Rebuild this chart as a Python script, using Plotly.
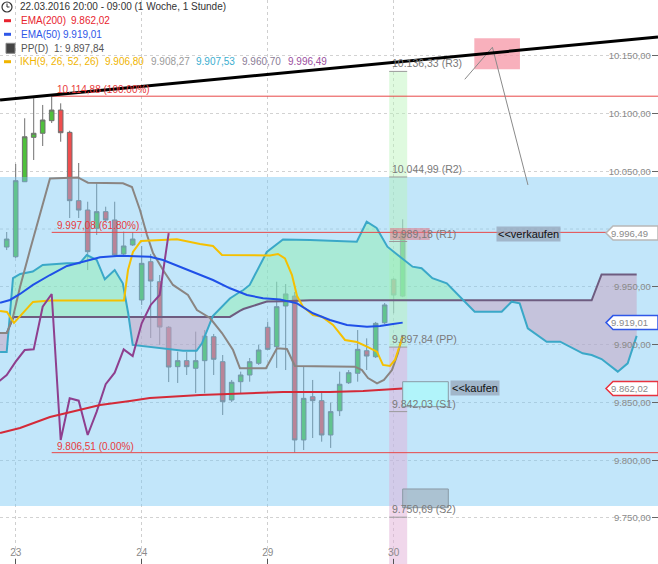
import plotly.graph_objects as go

W, H = 658, 564

# ---------------- data (hourly candles, index 0..44) ----------------
candle_idx = list(range(45))
opens = [9984.4, 9976.0, 10040.9, 10079.3, 10082.8, 10093.7, 10102.9, 10083.6, 10024.5, 10016.4,
         10000.6, 10015.0, 10007.8, 9978.4, 9986.2, 9938.6, 9971.7, 9954.4, 9915.0, 9880.9,
         9886.1, 9879.5, 9886.1, 9906.8, 9885.2, 9852.1, 9867.9, 9873.7, 9883.8, 9915.0,
         9898.2, 9933.4, 9942.0, 9817.5, 9854.9, 9851.5, 9821.8, 9842.8, 9867.0, 9875.2,
         9894.7, 9889.5, 9918.9, 9956.5, 9942.0]
highs = [9997.4, 10056.2, 10095.8, 10113.1, 10107.3, 10114.88, 10108.7, 10085.0, 10057.1, 10023.6,
         10039.5, 10019.3, 10023.6, 9997.7, 9997.4, 9985.3, 9978.4, 9960.2, 9916.0, 9893.9,
         9893.6, 9911.2, 9912.6, 9909.2, 9891.0, 9869.4, 9876.6, 9888.4, 9899.7, 9919.8,
         9954.4, 9952.4, 9945.5, 9880.9, 9869.4, 9859.3, 9849.7, 9876.6, 9878.0, 9912.6,
         9905.4, 9919.6, 9936.0, 9957.6, 10008.4]
lows = [9981.8, 9974.9, 10040.7, 10059.7, 10071.8, 10091.7, 10075.5, 10009.5, 10009.5, 9964.5,
        9994.8, 10006.1, 9975.8, 9977.5, 9985.3, 9934.3, 9905.7, 9899.7, 9867.6, 9866.8,
        9873.7, 9858.1, 9857.9, 9873.7, 9839.1, 9850.3, 9858.1, 9867.9, 9882.4, 9895.3,
        9879.8, 9878.0, 9806.51, 9808.8, 9819.2, 9816.0, 9810.6, 9838.2, 9865.9, 9867.9,
        9878.0, 9888.4, 9917.8, 9927.1, 9941.0]
closes = [9991.3, 10041.8, 10079.8, 10082.8, 10094.3, 10102.9, 10083.3, 10024.5, 10016.4, 9980.4,
          10015.0, 10007.8, 9977.5, 9985.3, 9991.3, 9970.3, 9955.0, 9915.2, 9880.6, 9886.1,
          9880.9, 9886.1, 9907.4, 9887.3, 9850.6, 9867.4, 9873.7, 9885.2, 9895.3, 9895.9,
          9932.8, 9943.8, 9817.5, 9853.5, 9851.5, 9821.8, 9842.0, 9865.7, 9875.7, 9895.9,
          9890.1, 9918.4, 9934.3, 9942.9, 9996.49]

ema200_x = [-0.74, 1.48, 4.81, 8.14, 10.37, 13.7, 15.9, 21.5, 27.0, 30.7, 35.9, 39.6, 44.0]
ema200 = [9823.5, 9827.9, 9837.4, 9843.4, 9847.8, 9851.2, 9853.8, 9856.4, 9858.1, 9859.0, 9859.0, 9859.9, 9862.02]

ema50_x = [-0.74, 0.37, 1.48, 2.92, 4.81, 6.7, 8.48, 10.37, 12.59, 14.81, 15.92, 17.37, 19.26, 21.14,
           22.92, 24.81, 26.7, 28.48, 30.37, 32.26, 34.03, 35.92, 37.81, 40.03, 41.48, 42.92, 44.0]
ema50 = [9936.2, 9938.6, 9943.8, 9951.6, 9960.2, 9968.0, 9971.7, 9975.5, 9976.9, 9976.6, 9976.0, 9973.2,
         9967.4, 9961.7, 9955.9, 9948.7, 9942.9, 9940.1, 9939.0, 9935.7, 9927.1, 9921.3, 9917.0, 9915.5,
         9916.0, 9917.8, 9919.01]

tenkan_x = [-0.74, 0.03, 0.81, 1.7, 2.92, 4.81, 13.03, 13.48, 14.03, 14.92, 17.03, 18.92, 21.48, 22.92,
            23.92, 29.26, 30.14, 30.92, 31.7, 32.26, 32.92, 34.03, 35.03, 36.26, 37.59, 38.92, 40.03,
            41.14, 41.81, 42.59, 43.14, 44.0]
tenkan = [9929.1, 9928.2, 9918.7, 9926.5, 9936.9, 9938.1, 9938.1, 9964.5, 9980.1, 9989.6, 9990.5, 9991.1,
          9987.0, 9985.3, 9977.5, 9977.1, 9978.4, 9974.5, 9960.2, 9942.0, 9932.8, 9925.6, 9924.1, 9917.0,
          9904.0, 9902.2, 9898.2, 9893.9, 9882.4, 9881.5, 9886.7, 9906.8]

kijun_x = [-0.74, 0.03, 0.7, 1.48, 2.59, 4.03, 4.81, 7.92, 9.03, 12.92, 13.92, 14.81, 15.59, 16.26, 17.37,
           18.48, 20.14, 21.14, 22.59, 23.92, 25.15, 25.92, 28.81, 30.03, 31.14, 32.03, 38.7, 39.48,
           40.15, 41.15, 41.92, 42.81, 43.48, 44.0]
kijun = [9910.0, 9910.0, 9923.9, 9949.8, 9981.8, 10020.8, 10043.7, 10044.6, 10040.1, 10039.5, 10036.3,
         10016.4, 9994.8, 9979.2, 9964.5, 9951.6, 9942.9, 9929.9, 9923.0, 9910.0, 9895.3, 9879.5, 9879.5,
         9896.8, 9896.2, 9881.5, 9880.9, 9878.0, 9871.1, 9866.5, 9869.4, 9878.0, 9892.7, 9908.27]

cloud_x = [-0.74, 0.0, 0.7, 0.8, 1.5, 2.9, 4.0, 6.7, 8.1, 8.9, 10.0, 10.9, 12.0, 12.9, 13.5, 14.0, 15.6,
           17.4, 19.6, 21.1, 21.7, 22.9, 24.3, 24.8, 25.9, 26.3, 27.0, 27.9, 28.7, 28.9, 30.7, 32.6, 33.7,
           38.9, 40.0, 41.1, 42.3, 43.7, 45.1, 46.1, 47.3, 48.9, 50.4, 52.0, 55.0, 56.1, 57.0, 57.9, 60.0,
           61.5, 64.0, 65.0, 66.1, 66.7, 67.9, 69.0, 70.0]
senkou_a = [9893.6, 9893.6, 9957.6, 9958.0, 9961.1, 9963.2, 9968.9, 9970.3, 9970.3, 9977.5, 9973.2, 9956.5,
            9964.5, 9953.0, 9927.1, 9899.7, 9898.2, 9896.8, 9894.7, 9894.7, 9901.1, 9924.7, 9936.0, 9939.9,
            9945.5, 9947.2, 9951.6, 9964.5, 9976.6, 9980.1, 9990.9, 9990.7, 9990.5, 9989.0, 10006.3,
            10000.9, 9984.7, 9976.0, 9967.4, 9966.0, 9957.4, 9953.0, 9941.4, 9928.5, 9928.5, 9937.1,
            9935.7, 9914.1, 9902.5, 9902.5, 9892.5, 9891.0, 9887.5, 9883.8, 9876.6, 9883.8, 9907.53]
senkou_b = ([9910.0, 9910.0, 9922.6] + [9923.9] * 21 +
            [9929.2, 9930.8, 9932.5, 9934.9, 9937.1, 9937.2, 9937.5] + [9938.3] * 21 + [9960.7] * 5)

chikou_shift = 26

fib_start = 5
fib_levels = [10114.88, 9997.08, 9806.51]
fib_labels = ["10.114,88 (100.00%)", "9.997,08 (61.80%)", "9.806,51 (0.00%)"]

pivot_levels = [10136.33, 10044.99, 9989.18, 9897.84, 9842.03, 9750.69]
pivot_names = ["R3", "R2", "R1", "PP", "S1", "S2"]
pivot_day = [42.5, 44.5]

day_ticks = [1, 15, 29, 43]
day_labels = ["23", "24", "29", "30"]
price_ticks = [9750, 9800, 9850, 9900, 9950, 10050, 10100, 10150, 10200]
hidden_grid = [10000]

# drawn objects (levels in price, positions in candle index)
trend_x = [-0.74, 72.37]
trend_v = [10111.6, 10166.1]
zone_band = [9760.4, 10045.0]
sell_box = dict(x=[42.6, 47.0], v=[9990.5, 10000.9])
buy_box = dict(x=[44.0, 49.07], v=[9846.3, 9867.9])
s2_box = dict(x=[44.0, 49.07], v=[9758.9, 9775.1])
top_box = dict(x=[51.96, 57.03], v=[10138.2, 10165.0])
arrow_x = [50.9, 53.97, 57.92]
arrow_v = [10129.5, 10157.2, 10038.1]
sell_label = (57.98, 9995.7)
buy_label = (52.03, 9862.5)
price_tags = [(9996.49, "#b8b8b8"), (9919.01, "#2f57e8"), (9862.02, "#e8323e")]

x_range = [-0.744, 72.37]
y_range = [9710.2, 10198.1]

FONT = "Liberation Sans, Arial, sans-serif"


def de(v):
    s = f"{v:,.2f}"
    return s.replace(",", "X").replace(".", ",").replace("X", ".")


def px(x):
    return x / W


def py(y):
    return 1 - y / H


fig = go.Figure()

# candles
fig.add_trace(go.Candlestick(
    x=candle_idx, open=opens, high=highs, low=lows, close=closes,
    increasing=dict(fillcolor="#4fc03c", line=dict(color="#707070", width=1)),
    decreasing=dict(fillcolor="#ef4e4e", line=dict(color="#707070", width=1)),
    whiskerwidth=0, showlegend=False, hoverinfo="skip"))

# blue zone band overlay
fig.add_trace(go.Scatter(
    x=[x_range[0], x_range[1], x_range[1], x_range[0], x_range[0]],
    y=[zone_band[0], zone_band[0], zone_band[1], zone_band[1], zone_band[0]],
    fill="toself", fillcolor="rgba(120,200,245,0.45)", mode="lines", line=dict(width=0),
    showlegend=False, hoverinfo="skip"))

# pivot day bands
pp = pivot_levels[3]
fig.add_trace(go.Scatter(
    x=[pivot_day[0], pivot_day[1], pivot_day[1], pivot_day[0], pivot_day[0]],
    y=[pp, pp, pivot_levels[0], pivot_levels[0], pp],
    fill="toself", fillcolor="rgba(185,245,185,0.45)", mode="lines", line=dict(width=0),
    showlegend=False, hoverinfo="skip"))
fig.add_trace(go.Scatter(
    x=[pivot_day[0], pivot_day[1], pivot_day[1], pivot_day[0], pivot_day[0]],
    y=[pp, pp, y_range[0], y_range[0], pp],
    fill="toself", fillcolor="rgba(225,175,215,0.5)", mode="lines", line=dict(width=0),
    showlegend=False, hoverinfo="skip"))


# ichimoku cloud fills
def cloud_polys(xs, a, b):
    polys = []
    cx, ca, cb = [xs[0]], [a[0]], [b[0]]
    sign = a[0] >= b[0]
    for k in range(1, len(xs)):
        s = a[k] >= b[k]
        if s != sign:
            d0 = a[k - 1] - b[k - 1]
            d1 = a[k] - b[k]
            t = d0 / (d0 - d1)
            xc = xs[k - 1] + t * (xs[k] - xs[k - 1])
            yc = a[k - 1] + t * (a[k] - a[k - 1])
            cx.append(xc); ca.append(yc); cb.append(yc)
            polys.append((sign, cx, ca, cb))
            cx, ca, cb = [xc], [yc], [yc]
            sign = s
        cx.append(xs[k]); ca.append(a[k]); cb.append(b[k])
    polys.append((sign, cx, ca, cb))
    return polys


for up, cx, ca, cb in cloud_polys(cloud_x, senkou_a, senkou_b):
    fig.add_trace(go.Scatter(
        x=cx + cx[::-1], y=ca + cb[::-1], fill="toself",
        fillcolor="rgba(140,240,170,0.45)" if up else "rgba(200,160,190,0.5)",
        mode="lines", line=dict(width=0), showlegend=False, hoverinfo="skip"))

# lines
fig.add_trace(go.Scatter(x=cloud_x, y=senkou_b, mode="lines", line=dict(color="#6e5c80", width=2),
                         showlegend=False, hoverinfo="skip"))
fig.add_trace(go.Scatter(x=cloud_x, y=senkou_a, mode="lines", line=dict(color="#3aa8c8", width=2),
                         showlegend=False, hoverinfo="skip"))
fig.add_trace(go.Scatter(x=kijun_x, y=kijun, mode="lines", line=dict(color="#8a8582", width=2),
                         showlegend=False, hoverinfo="skip"))
fig.add_trace(go.Scatter(x=tenkan_x, y=tenkan, mode="lines", line=dict(color="#f5c000", width=2),
                         showlegend=False, hoverinfo="skip"))
chik_x = [i - chikou_shift for i in candle_idx[chikou_shift - 1:]]
chik_v = closes[chikou_shift - 1:]
fig.add_trace(go.Scatter(x=chik_x, y=chik_v, mode="lines", line=dict(color="#8e3f8e", width=2),
                         showlegend=False, hoverinfo="skip"))
fig.add_trace(go.Scatter(x=ema200_x, y=ema200, mode="lines", line=dict(color="#d42a38", width=2),
                         showlegend=False, hoverinfo="skip"))
fig.add_trace(go.Scatter(x=ema50_x, y=ema50, mode="lines", line=dict(color="#1f50e8", width=2),
                         showlegend=False, hoverinfo="skip"))

shapes = []
annots = []

# gridline hidden behind the price tag
for g in hidden_grid:
    shapes.append(dict(type="line", xref="paper", yref="y", x0=0, x1=1, y0=g, y1=g,
                       line=dict(color="#d2d2d2", width=1, dash="dot"), layer="below"))

# fib lines + labels
for lv, lab in zip(fib_levels, fib_labels):
    shapes.append(dict(type="line", xref="x", yref="y", x0=fib_start, x1=x_range[1], y0=lv, y1=lv,
                       line=dict(color="#e84848", width=1), layer="above"))
    annots.append(dict(x=fib_start + 0.37, y=lv, xref="x", yref="y", text=lab, showarrow=False,
                       xanchor="left", yanchor="bottom", yshift=-1,
                       font=dict(family=FONT, size=10, color="#e83a3a")))

# pivot segments + labels
for lv, nm in zip(pivot_levels, pivot_names):
    shapes.append(dict(type="line", xref="x", yref="y", x0=pivot_day[0], x1=pivot_day[1], y0=lv, y1=lv,
                       line=dict(color="#9a9a9a", width=1), layer="above"))
    annots.append(dict(x=pivot_day[0] + 0.1, y=lv, xref="x", yref="y", text=f"{de(lv)} ({nm})",
                       showarrow=False, xanchor="left", yanchor="bottom", yshift=0,
                       font=dict(family=FONT, size=10.5, color="#7a7a7a")))

# drawn boxes
shapes.append(dict(type="rect", xref="x", yref="y", x0=sell_box["x"][0], x1=sell_box["x"][1],
                   y0=sell_box["v"][0], y1=sell_box["v"][1], fillcolor="rgba(225,120,135,0.55)",
                   line=dict(width=0), layer="above"))
shapes.append(dict(type="rect", xref="x", yref="y", x0=buy_box["x"][0], x1=buy_box["x"][1],
                   y0=buy_box["v"][0], y1=buy_box["v"][1], fillcolor="rgba(175,245,250,0.9)",
                   line=dict(color="#8a9aa5", width=1), layer="above"))
shapes.append(dict(type="rect", xref="x", yref="y", x0=s2_box["x"][0], x1=s2_box["x"][1],
                   y0=s2_box["v"][0], y1=s2_box["v"][1], fillcolor="rgba(165,185,200,0.8)",
                   line=dict(color="#8a9aa5", width=1), layer="above"))
shapes.append(dict(type="rect", xref="x", yref="y", x0=top_box["x"][0], x1=top_box["x"][1],
                   y0=top_box["v"][0], y1=top_box["v"][1], fillcolor="rgba(245,150,165,0.75)",
                   line=dict(width=0), layer="above"))
for k in range(len(arrow_x) - 1):
    shapes.append(dict(type="line", xref="x", yref="y", x0=arrow_x[k], x1=arrow_x[k + 1],
                       y0=arrow_v[k], y1=arrow_v[k + 1], line=dict(color="#8a8a8a", width=1),
                       layer="above"))

# trend line
shapes.append(dict(type="line", xref="x", yref="y", x0=trend_x[0], x1=trend_x[1], y0=trend_v[0],
                   y1=trend_v[1], line=dict(color="black", width=3), layer="above"))

annots.append(dict(x=sell_label[0], y=sell_label[1], xref="x", yref="y", text="<<verkaufen",
                   showarrow=False, bgcolor="rgba(150,165,185,0.75)", borderpad=1,
                   font=dict(family=FONT, size=11, color="#111")))
annots.append(dict(x=buy_label[0], y=buy_label[1], xref="x", yref="y", text="<<kaufen",
                   showarrow=False, bgcolor="rgba(150,165,185,0.75)", borderpad=1,
                   font=dict(family=FONT, size=11, color="#111")))

# price tags on the right
for v, col in price_tags:
    shapes.append(dict(type="path", xref="paper", yref="y", xsizemode="pixel", ysizemode="pixel",
                       xanchor=1, yanchor=v, path="M 0 7 L -45 7 L -52 0 L -45 -7 L 0 -7 Z",
                       fillcolor="white", line=dict(color=col, width=1.5), layer="above"))
    annots.append(dict(x=px(650), y=v, xref="paper", yref="y", text=de(v), showarrow=False,
                       xanchor="right", yanchor="middle",
                       font=dict(family=FONT, size=9.5, color="#8a8a8a")))

# ---------------- legend block ----------------
shapes.append(dict(type="circle", xref="paper", yref="paper", x0=px(2), x1=px(12), y0=py(12), y1=py(2),
                   line=dict(color="#333", width=1.2)))
shapes.append(dict(type="line", xref="paper", yref="paper", x0=px(7), x1=px(7), y0=py(7), y1=py(3.5),
                   line=dict(color="#333", width=1)))
shapes.append(dict(type="line", xref="paper", yref="paper", x0=px(7), x1=px(9.5), y0=py(7), y1=py(7),
                   line=dict(color="#333", width=1)))
for yy, col in [(20.7, "#e8232e"), (34.3, "#2f57e8"), (61.7, "#f0b400")]:
    shapes.append(dict(type="line", xref="paper", yref="paper", x0=px(4), x1=px(11), y0=py(yy),
                       y1=py(yy), line=dict(color=col, width=3)))
shapes.append(dict(type="rect", xref="paper", yref="paper", x0=px(6), x1=px(15), y0=py(53.3), y1=py(43.3),
                   fillcolor="#444", line=dict(color="#888", width=1)))

leg = [
    (18, 6.7, "22.03.2016 20:00 - 09:00 (1 Woche, 1 Stunde)", "#333333"),
    (19, 20.7, "EMA(200)", "#e8232e"), (69, 20.7, de(ema200[-1]), "#e8232e"),
    (19, 34.3, "EMA(50)", "#2f57e8"), (61, 34.3, de(ema50[-1]), "#2f57e8"),
    (19, 48.3, "PP(D)", "#555555"), (52, 48.3, "1: " + de(pivot_levels[3]), "#555555"),
    (18, 61.7, "IKH(9, 26, 52, 26)", "#f0b400"), (103, 61.7, de(tenkan[-1]), "#f0b400"),
    (149, 61.7, de(kijun[-1]), "#9a9a9a"), (194, 61.7, de(senkou_a[-1]), "#3aaed0"),
    (240, 61.7, de(senkou_b[-1]), "#8a7c96"), (286, 61.7, de(closes[-1]), "#9b4fa0"),
]
for x0, y0, t, c in leg:
    annots.append(dict(x=px(x0), y=py(y0), xref="paper", yref="paper", text=t, showarrow=False,
                       xanchor="left", yanchor="middle", font=dict(family=FONT, size=10, color=c)))

fig.update_layout(
    width=W, height=H, autosize=False,
    margin=dict(l=0, r=0, t=0, b=0),
    paper_bgcolor="white", plot_bgcolor="white",
    separators=",.",
    boxgap=0.27,
    showlegend=False,
    shapes=shapes, annotations=annots,
    xaxis=dict(range=x_range, rangeslider=dict(visible=False), tickmode="array", tickvals=day_ticks,
               ticktext=day_labels, ticks="inside", ticklen=5, tickcolor="#555",
               ticklabelposition="inside", tickfont=dict(family=FONT, size=10, color="#8a8a8a"),
               showgrid=True, gridcolor="#cfcfcf", griddash="dot", zeroline=False, showline=False,
               fixedrange=True),
    yaxis=dict(range=y_range, side="right", tickmode="array", tickvals=price_ticks,
               tickformat=",.2f", ticks="inside", ticklen=6, tickcolor="#666",
               ticklabelposition="inside",
               tickfont=dict(family=FONT, size=9.5, color="#8a8a8a"), showgrid=True,
               gridcolor="#d2d2d2", griddash="dot", zeroline=False, showline=False, fixedrange=True),
)

fig.write_html("out.html", config={"displayModeBar": False},
               post_script="document.body.style.margin='0px';")
